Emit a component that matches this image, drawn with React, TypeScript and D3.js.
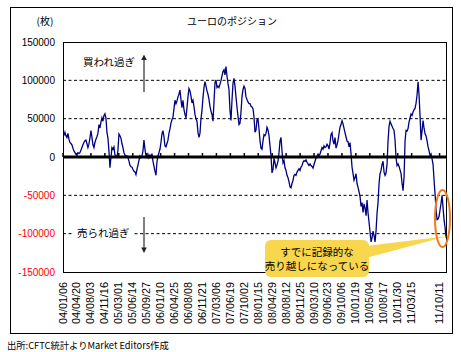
import React from 'react';
import * as d3 from 'd3';

const title = 'ユーロのポジション';
const unitLabel = '(枚)';
const sourceNote = '出所:CFTC統計よりMarket Editors作成';
const overboughtLabel = '買われ過ぎ';
const oversoldLabel = '売られ過ぎ';
const calloutLines = ['すでに記録的な', '売り越しになっている'];

const yTickValues = [150000, 100000, 50000, 0, -50000, -100000, -150000];
const gridValues = [100000, 50000, -50000, -100000];

const xTickLabels = [
  '04/01/06', '04/04/20', '04/08/03', '04/11/16', '05/03/01', '05/06/14', '05/09/27',
  '06/01/10', '06/04/25', '06/08/08', '06/11/21', '07/03/06', '07/06/19', '07/10/02',
  '08/01/15', '08/04/29', '08/08/12', '08/11/25', '09/03/10', '09/06/23', '09/10/06',
  '10/01/19', '10/05/04', '10/08/17', '10/11/30', '11/03/15', '11/10/11',
];

const axisStart = '2004-01-06';
const axisEnd = '2011-12-06';
const seriesStart = '2004-01-13';
const seriesEnd = '2011-11-29';

// Net position (thousands of contracts), evenly spaced samples from seriesStart to seriesEnd
const netPositionK = [
  27.8, 32.2, 27.8, 25.5, 30.8, 23.3, 18.9, 17.6, 15.9, 11.5,
  7.9, 5.7, 3.5, 4.4, 5.7, 4.4, 5.7, 8.8, 12.3, 15.9,
  18.9, 21.1, 22.0, 17.6, 12.3, 16.7, 24.7, 34.4, 25.5, 15.9,
  12.3, 18.9, 23.3, 26.4, 30.8, 42.3, 37.9, 45.4, 51.1, 46.7,
  54.2, 56.4, 51.1, 32.2, 24.7, 7.9, -14.1, -0.9, 12.3, 10.1,
  13.2, 2.6, 1.3, 0, 8.8, 30.0, 27.8, 24.7, 17.6, 12.3,
  5.7, 2.6, 1.3, 1.3, -0.9, -5.3, -10.6, -12.8, -13.2, -16.3,
  -18.5, -19.4, -22.9, -16.3, -10.6, -4.4, 1.3, -0.9, 1.3, 7.9,
  22.0, 10.1, 1.3, -0.9, 3.5, -0.9, 2.6, 0, 4.4, -5.3,
  -11.9, -18.5, -23.8, -6.2, 1.3, 5.7, 10.1, 18.9, 30.0, 34.4,
  26.4, 14.5, 13.2, 17.6, 22.0, 30.8, 36.6, 44.1, 48.5, 52.0,
  63.0, 74.0, 69.6, 73.1, 78.4, 81.9, 87.2, 74.9, 64.3, 74.0,
  61.7, 55.5, 51.1, 64.3, 78.4, 89.4, 86.3, 79.3, 70.5, 74.0,
  66.1, 55.5, 49.8, 46.7, 32.2, 25.5, 30.8, 49.8, 60.8, 77.5,
  90.7, 98.2, 92.5, 86.3, 81.9, 74.9, 66.1, 59.9, 55.5, 46.7,
  71.8, 96.9, 100.4, 90.7, 92.5, 90.7, 95.1, 99.6, 105.7, 111.4,
  113.6, 107.0, 118.1, 105.7, 96.0, 88.1,
  60.8, 47.6, 74.0, 96.0, 102.6, 92.5, 78.4, 65.2, 52.9, 42.3,
  44.1, 58.6, 78.4, 88.1, 92.5, 89.4, 78.4, 74.9, 71.8, 69.6,
  69.6, 66.1, 65.2, 63.0, 52.0, 32.2, 35.2, 48.5, 49.8, 36.6,
  21.1, 11.5, 10.1, 21.1, 29.1, 27.8, 30.8, 38.8, 35.2, 27.8,
  14.5, 1.3, -20.7, -16.3, -1.8, -7.5, -14.1, -10.6, -5.3, 5.7,
  21.1, 25.5, 7.9, -7.5,
  -4.7, -14.1, -17.5, -23.9, -26.9, -32.5, -38.9, -40.2, -34.6, -30.3,
  -23.9, -22.7, -23.9, -19.7, -17.5, -15.4, -17.5, -13.2, -11.1, -6.8,
  -4.7, -5.6, -3.8, -6.8, -9.0, -11.1, -9.0, -11.1, -12.4, -14.5,
  -9.8, -5.6, -1.3, 1.7,
  3.8, 1.7, 3.8, 8.1, 12.4, 10.3, 14.5, 12.4, 13.2, 16.7,
  14.5, 10.3, 18.8, 29.5, 31.6, 20.9, 16.7, 25.2, 11.5, 15.8,
  21.8, 30.3, 38.9, 42.3, 47.4, 43.2, 37.2, 31.6, 26.1, 20.9,
  20.1, 13.2, 18.8, 3.8, -13.2, -21.8, -30.3, -26.9, -21.8, -34.6,
  -39.7, -45.3, -51.7, -64.5, -59.4, -72.2, -61.1, -66.7, -76.5, -56.0,
  -73.1, -85.1, -97.9, -110.7, -105.1, -96.6, -102.1, -110.7, -96.6, -73.1,
  -59.4, -34.6, -21.8, -17.5, -9.8,
  -5.6, -19.7, -23.9, -20.9, -9.0, 20.9, 40.2, 46.6, 43.2, 40.2,
  37.2, 34.6, 21.8, -1.3, -11.1, -9.0, -12.4, -16.7, -21.8, -34.6,
  -44.0, -26.1, 20.9, 34.6, 33.8, 37.2, 45.7, 50.9, 56.0, 54.3,
  58.6, 61.5, 63.7, 70.1, 80.8, 98.0, 80.8, 53.0, 21.8, 34.6,
  47.4, 37.2, 30.3, 27.4, 20.9, 13.2, 8.1, 1.7, 3.8, -2.6,
  -9.8, -30.3, -48.3, -68.8, -81.6, -80.8, -77.4, -68.8, -60.3, -50.0,
  -66.7, -81.6, -92.3, -105.1,
];

const FONT_JP = "'Noto Sans CJK JP', sans-serif";
const FONT_NUM = "'Liberation Sans', Arial, sans-serif";

const W = 461;
const H = 352;
const plot = { left: 63, right: 447, top: 42, bottom: 272 };

const parseLabel = (s: string) => {
  const [yy, mm, dd] = s.split('/').map(Number);
  return new Date(2000 + yy, mm - 1, dd);
};
const parseIso = d3.timeParse('%Y-%m-%d');

export default function App() {
  const x = d3
    .scaleTime()
    .domain([parseIso(axisStart)!, parseIso(axisEnd)!])
    .range([plot.left, plot.right]);
  const y = d3.scaleLinear().domain([-150000, 150000]).range([plot.bottom, plot.top]);

  const t0 = parseIso(seriesStart)!.getTime();
  const t1 = parseIso(seriesEnd)!.getTime();
  const n = netPositionK.length;
  const points = netPositionK.map((v, i) => ({
    date: new Date(t0 + ((t1 - t0) * i) / (n - 1)),
    value: v * 1000,
  }));
  const line = d3
    .line<{ date: Date; value: number }>()
    .x((d) => x(d.date))
    .y((d) => y(d.value));

  const labelTop = plot.bottom + 10;
  const y0 = y(0);

  const arrowX = 144;

  return (
    <svg
      width={W}
      height={H}
      style={{ position: 'absolute', left: 0, top: 0, background: '#fff' }}
    >
      <rect x={0} y={0} width={W} height={H} fill="#fff" />
      <rect x={10.5} y={7.5} width={442} height={326} fill="#fff" stroke="#000" strokeWidth={1} />

      <text x={232} y={25} textAnchor="middle" fontFamily={FONT_JP} fontSize={10}>
        {title}
      </text>
      <text x={45} y={25} textAnchor="middle" fontFamily={FONT_JP} fontSize={10}>
        {unitLabel}
      </text>

      {gridValues.map((g) => (
        <line
          key={g}
          x1={plot.left}
          x2={plot.right}
          y1={y(g)}
          y2={y(g)}
          stroke="#000"
          strokeWidth={1}
          strokeDasharray="3,2.5"
        />
      ))}

      {yTickValues.map((v) => (
        <text
          key={v}
          x={55}
          y={y(v)}
          dy="0.35em"
          textAnchor="end"
          fontFamily={FONT_NUM}
          fontSize={10}
          fill={v < 0 ? '#ff0000' : '#000'}
        >
          {v}
        </text>
      ))}

      {xTickLabels.map((s) => {
        const px = x(parseLabel(s));
        return (
          <g key={s}>
            <line x1={px} x2={px} y1={y0 - 4} y2={y0} stroke="#000" strokeWidth={1.5} />
            <text
              transform={`translate(${px},${labelTop}) rotate(-90)`}
              dy="0.35em"
              textAnchor="end"
              fontFamily={FONT_NUM}
              fontSize={10}
              textLength={42}
              lengthAdjust="spacingAndGlyphs"
            >
              {s}
            </text>
          </g>
        );
      })}

      {/* oversold label with white background */}
      <rect x={74} y={y(-100000) - 7} width={58} height={14} fill="#fff" />
      <text x={77} y={y(-100000)} dy="0.35em" fontFamily={FONT_JP} fontSize={10.5}>
        {oversoldLabel}
      </text>
      <text x={83} y={62} dy="0.35em" fontFamily={FONT_JP} fontSize={10.5}>
        {overboughtLabel}
      </text>

      {/* arrows */}
      <line x1={arrowX} x2={arrowX} y1={92} y2={59} stroke="#808080" strokeWidth={2} />
      <path d={`M${arrowX},54.5 L${arrowX - 2.8},60 L${arrowX + 2.8},60 Z`} fill="#222" />
      <line x1={arrowX} x2={arrowX} y1={217} y2={248} stroke="#808080" strokeWidth={2} />
      <path d={`M${arrowX},253 L${arrowX - 2.8},247.5 L${arrowX + 2.8},247.5 Z`} fill="#222" />

      <path d={line(points) ?? ''} fill="none" stroke="#000080" strokeWidth={1.3} />

      <line x1={plot.left} x2={plot.right} y1={y0} y2={y0} stroke="#000" strokeWidth={3} />

      <rect
        x={plot.left + 0.5}
        y={plot.top + 0.5}
        width={plot.right - plot.left - 1}
        height={plot.bottom - plot.top}
        fill="none"
        stroke="#000"
        strokeWidth={1}
      />

      {/* callout */}
      <path d="M366,246 L448,236 L366,258 Z" fill="#F8D64E" />
      <rect x={265} y={240} width={104} height={37} rx={6} ry={6} fill="#F8D64E" />
      <text x={317} y={252} dy="0.35em" textAnchor="middle" fontFamily={FONT_JP} fontSize={10.5}>
        {calloutLines[0]}
      </text>
      <text x={317} y={266} dy="0.35em" textAnchor="middle" fontFamily={FONT_JP} fontSize={10.5}>
        {calloutLines[1]}
      </text>
      <ellipse cx={442.5} cy={218.5} rx={7.5} ry={28.5} fill="none" stroke="#F07A22" strokeWidth={2} />

      <text x={7} y={346} dy="0.35em" fontFamily={FONT_JP} fontSize={9.3}>
        {sourceNote}
      </text>
    </svg>
  );
}
